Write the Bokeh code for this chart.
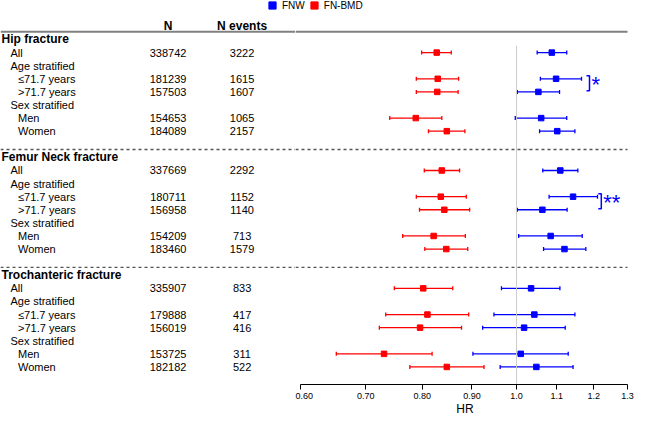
import math
from bokeh.plotting import figure
from bokeh.layouts import column, row
from bokeh.models import (Range1d, LinearScale, ColumnDataSource, Whisker, TeeHead,
                          FixedTicker, CustomJSTickFormatter, Legend, LegendItem)
from bokeh.core.properties import value
from bokeh.embed import file_html
from bokeh.resources import INLINE

# ---------------- data ----------------
groups = ["Hip fracture", "Femur Neck fracture", "Trochanteric fracture"]
row_labels = ["All", "Age stratified", "\u226471.7 years", ">71.7 years",
              "Sex stratified", "Men", "Women"]
col_headers = ["N", "N events"]

n_total = [
    [338742, None, 181239, 157503, None, 154653, 184089],
    [337669, None, 180711, 156958, None, 154209, 183460],
    [335907, None, 179888, 156019, None, 153725, 182182],
]
n_events = [
    [3222, None, 1615, 1607, None, 1065, 2157],
    [2292, None, 1152, 1140, None, 713, 1579],
    [833, None, 417, 416, None, 311, 522],
]

# estimates for rows: All, <=71.7, >71.7, Men, Women
fnw_hr = [[1.087, 1.098, 1.053, 1.060, 1.101],
          [1.109, 1.143, 1.063, 1.084, 1.120],
          [1.035, 1.043, 1.018, 1.010, 1.048]]
fnw_lo = [[1.050, 1.058, 1.002, 0.997, 1.056],
          [1.064, 1.080, 1.002, 1.005, 1.066],
          [0.965, 0.948, 0.923, 0.902, 0.962]]
fnw_hi = [[1.126, 1.166, 1.107, 1.126, 1.148],
          [1.156, 1.211, 1.127, 1.168, 1.178],
          [1.108, 1.148, 1.122, 1.130, 1.143]]

bmd_hr = [[0.828, 0.830, 0.829, 0.788, 0.848],
          [0.838, 0.836, 0.843, 0.822, 0.847],
          [0.802, 0.810, 0.796, 0.731, 0.848]]
bmd_lo = [[0.799, 0.789, 0.789, 0.741, 0.812],
          [0.804, 0.789, 0.795, 0.764, 0.805],
          [0.749, 0.734, 0.723, 0.653, 0.777]]
bmd_hi = [[0.857, 0.872, 0.871, 0.838, 0.885],
          [0.874, 0.888, 0.895, 0.886, 0.891],
          [0.860, 0.893, 0.878, 0.819, 0.926]]

series_names = ["FNW", "FN-BMD"]
series_colors = ["#0000ff", "#ff0000"]
sig_marks = ["*", "**", ""]          # age-interaction significance per group
x_ticks = [0.6, 0.7, 0.8, 0.9, 1.0, 1.1, 1.2, 1.3]
x_label = "HR"

# ---------------- layout ----------------
W, H = 634, 418
TOP_H = 10                        # strip holding the legend
BODY_H = H - TOP_H
BOTTOM = 34                       # px below the frames for the axis
WL = 295                          # width of the table panel
est_rows = [0, 2, 3, 5, 6]
row_indent = [1, 1, 2, 2, 1, 2, 2]
indent_px = {0: 1, 1: 10, 2: 17.5}
N_X, EV_X = 167.6, 241.6
AX0, AX1 = 300.0, 627.0           # page px of first / last tick
PPL = (AX1 - AX0) / math.log(x_ticks[-1] / x_ticks[0])


def px2v(px):
    return x_ticks[0] * math.exp((px - AX0) / PPL)


def slot(g, k):
    return 9 * g + 1 + k


def title_slot(g):
    return 9 * g


FONT = value("Liberation Sans")
yr = Range1d(26.34, -2.214)
HDR_Y = -0.6
seps = [title_slot(g) - 0.6 for g in range(1, len(groups))]


def base_fig(**kw):
    f = figure(height=BODY_H, y_range=yr, output_backend="svg",
               toolbar_location=None, y_axis_location=None,
               min_border_left=0, min_border_right=0, min_border_top=0,
               min_border_bottom=BOTTOM, **kw)
    f.grid.visible = False
    f.outline_line_color = None
    f.background_fill_color = "white"
    f.border_fill_color = "white"
    return f


# ---------------- left: table ----------------
left = base_fig(width=WL, x_range=Range1d(0, WL), x_axis_location=None)

tx, ty, tt = [], [], []
bx, by, bt = [], [], []
nx, ny, nt = [], [], []
for g, gname in enumerate(groups):
    bx.append(indent_px[0]); by.append(title_slot(g)); bt.append(gname)
    for k, lab in enumerate(row_labels):
        tx.append(indent_px[row_indent[k]]); ty.append(slot(g, k)); tt.append(lab)
        if n_total[g][k] is not None:
            nx.append(N_X); ny.append(slot(g, k)); nt.append(str(n_total[g][k]))
        if n_events[g][k] is not None:
            nx.append(EV_X); ny.append(slot(g, k)); nt.append(str(n_events[g][k]))

left.text(x=tx, y=ty, text=tt, text_font=FONT, text_font_size=value("11px"),
          text_baseline="middle", text_align="left", text_color="black")
left.text(x=bx, y=by, text=bt, text_font=FONT, text_font_size=value("12px"),
          text_font_style="bold", text_baseline="middle", text_align="left",
          text_color="black")
left.text(x=nx, y=ny, text=nt, text_font=FONT, text_font_size=value("11px"),
          text_baseline="middle", text_align="center", text_color="black")
left.text(x=[N_X, EV_X], y=[-1.0, -1.0], text=col_headers, text_font=FONT,
          text_font_size=value("12px"), text_font_style="bold",
          text_baseline="middle", text_align="center", text_color="black")
left.segment(x0=[0], x1=[WL], y0=[HDR_Y], y1=[HDR_Y], line_color="#808080", line_width=2)
left.segment(x0=[0] * len(seps), x1=[WL] * len(seps), y0=seps, y1=seps,
             line_color="#555555", line_width=1.3, line_dash="3 3")

# ---------------- right: forest ----------------
right = base_fig(width=W - WL, x_axis_type="log", x_range=Range1d(px2v(WL), px2v(W)))
right.extra_x_ranges = {"px": Range1d(WL, W)}
right.extra_x_scales = {"px": LinearScale()}

right.segment(x0=[px2v(WL)], x1=[x_ticks[-1]], y0=[HDR_Y], y1=[HDR_Y],
              line_color="#808080", line_width=2)
right.segment(x0=[px2v(WL)] * len(seps), x1=[x_ticks[-1]] * len(seps), y0=seps, y1=seps,
              line_color="#555555", line_width=1.3, line_dash="3 3")
right.segment(x0=[1.0], x1=[1.0], y0=[0.47], y1=[26.34],
              line_color="#cccccc", line_width=1)

for hr, lo, hi, color in [(fnw_hr, fnw_lo, fnw_hi, series_colors[0]),
                          (bmd_hr, bmd_lo, bmd_hi, series_colors[1])]:
    ys, h, l, u = [], [], [], []
    for g in range(len(groups)):
        for j, k in enumerate(est_rows):
            ys.append(slot(g, k)); h.append(hr[g][j]); l.append(lo[g][j]); u.append(hi[g][j])
    src = ColumnDataSource(dict(y=ys, hr=h, lo=l, hi=u))
    wk = Whisker(source=src, base="y", lower="lo", upper="hi", dimension="width",
                 line_color=color, line_width=1.3,
                 lower_head=TeeHead(size=4, line_color=color, line_width=1.3),
                 upper_head=TeeHead(size=4, line_color=color, line_width=1.3))
    right.add_layout(wk)
    right.scatter("hr", "y", source=src, marker="square", size=5.5,
                  fill_color=color, line_color=color)

# significance brackets
bxs, bys, sx, sy, st = [], [], [], [], []
br_x = [589.0, 600.8]
for g, mark in enumerate(sig_marks):
    if not mark:
        continue
    top = slot(g, 2) - 0.23
    bot = slot(g, 3) - 0.08
    xr = br_x[g]
    bxs.append([xr - 3, xr, xr, xr - 3]); bys.append([top, top, bot, bot])
    sx.append(xr + 2); sy.append(slot(g, 2) + 0.45); st.append(mark)
right.multi_line(xs=bxs, ys=bys, x_range_name="px", line_color=series_colors[0],
                 line_width=1.5)
right.text(x=sx, y=sy, text=st, x_range_name="px", text_font=FONT,
           text_font_size=value("22px"), text_baseline="middle", text_align="left",
           text_color=series_colors[0])

ax = right.xaxis[0]
ax.ticker = FixedTicker(ticks=x_ticks, minor_ticks=[])
ax.formatter = CustomJSTickFormatter(
    code="return tick < 0.95 ? tick.toFixed(2) : tick.toFixed(1);")
ax.bounds = (x_ticks[0], x_ticks[-1])
ax.axis_line_color = "black"
ax.major_tick_line_color = "black"
ax.major_tick_out = 5
ax.major_tick_in = 0
ax.minor_tick_line_color = None
ax.major_label_text_font = "Liberation Sans"
ax.major_label_text_font_size = "9px"
ax.major_label_text_color = "black"
ax.major_label_standoff = 3
ax.axis_label = x_label
ax.axis_label_text_font = "Liberation Sans"
ax.axis_label_text_font_size = "12px"
ax.axis_label_text_font_style = "normal"
ax.axis_label_text_color = "black"
ax.axis_label_standoff = 0

# ---------------- top strip: legend ----------------
top = figure(width=W, height=TOP_H, x_range=Range1d(0, 1), y_range=Range1d(0, 1),
             output_backend="svg", toolbar_location=None,
             x_axis_location=None, y_axis_location=None,
             min_border_left=0, min_border_right=0, min_border_top=0,
             min_border_bottom=0)
top.grid.visible = False
top.outline_line_color = None
items = []
for name, color in zip(series_names, series_colors):
    # legend swatches only: the point itself lies outside the visible range
    r = top.scatter(x=[5], y=[5], marker="square", size=5.5,
                    fill_color=color, line_color=color)
    items.append(LegendItem(label=name, renderers=[r]))
legend = Legend(items=items, orientation="horizontal", location=(263, -4),
                margin=0, padding=0, spacing=0, glyph_width=18, glyph_height=18,
                label_standoff=1, label_height=12, label_width=10,
                label_text_font="Liberation Sans", label_text_font_size="10px",
                label_text_color="black",
                border_line_alpha=0, background_fill_alpha=0)
top.add_layout(legend)

layout = column(top, row(left, right, spacing=0), spacing=0)
open("out.html", "w").write(file_html(layout, INLINE))
